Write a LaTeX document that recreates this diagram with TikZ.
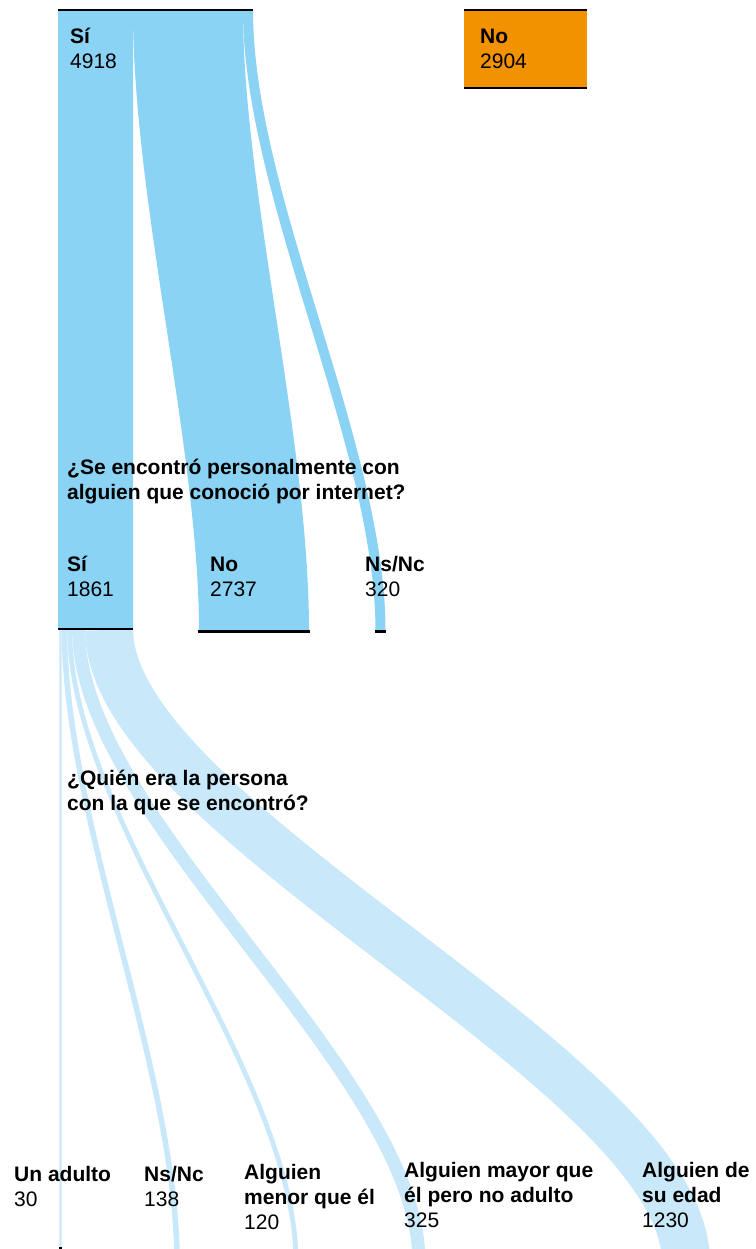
\documentclass[tikz,border=0pt]{standalone}
\usepackage{fontspec}
\setmainfont{Liberation Sans}
\usetikzlibrary{calc}

\definecolor{flowblue}{HTML}{8BD3F5}
\definecolor{flowlight}{HTML}{C9E8F9}
\definecolor{noorange}{HTML}{F39200}

% width, colour, from, to
\newcommand{\flowlink}[4]{%
  \draw[line width=#1, draw=#2] (#3) .. controls ($(#3)!0.3!(#3|-#4)$) and ($(#4)!0.3!(#4|-#3)$) .. (#4);}

\begin{document}
\begin{tikzpicture}[
    x=1pt, y=-1pt,
    bar/.style={line width=2.5pt, draw=black},
    lbl/.style={anchor=base west, inner sep=0pt, align=left, font=\fontsize{21}{25}\selectfont},
    qlbl/.style={lbl, font=\fontsize{21}{25}\selectfont\bfseries}
]
    \useasboundingbox (0,0) rectangle (755,1249);
    \clip (0,0) rectangle (755,1249);

    % Flow ends, first level
    \coordinate (si-a) at (95.5,10);
    \coordinate (si-b) at (95.5,629);
    \coordinate (no-a) at (188,10);
    \coordinate (no-b) at (254,631);
    \coordinate (ns-a) at (248,10);
    \coordinate (ns-b) at (380.5,631);

    % Flow ends, second level
    \coordinate (adulto-a) at (60.5,630);
    \coordinate (adulto-b) at (60.5,1262);
    \coordinate (nsb-a) at (64.5,630);
    \coordinate (nsb-b) at (177,1262);
    \coordinate (menor-a) at (69.7,630);
    \coordinate (menor-b) at (296,1262);
    \coordinate (mayor-a) at (78.7,630);
    \coordinate (mayor-b) at (419,1262);
    \coordinate (edad-a) at (109.2,630);
    \coordinate (edad-b) at (686,1262);

    % Second level flows
    \flowlink{2.4pt}{flowlight}{adulto-a}{adulto-b}
    \flowlink{5.6pt}{flowlight}{nsb-a}{nsb-b}
    \flowlink{4.8pt}{flowlight}{menor-a}{menor-b}
    \flowlink{13.1pt}{flowlight}{mayor-a}{mayor-b}
    \flowlink{48pt}{flowlight}{edad-a}{edad-b}

    % First level flows
    \flowlink{75pt}{flowblue}{si-a}{si-b}
    \flowlink{110pt}{flowblue}{no-a}{no-b}
    \flowlink{10pt}{flowblue}{ns-a}{ns-b}

    % No box
    \fill[noorange] (464,10) rectangle (587,88);
    \draw[bar] (464,10) -- (587,10);
    \draw[bar] (464,88) -- (587,88);

    % Bars
    \draw[bar] (58,10) -- (253,10);
    \draw[bar] (58,629) -- (133,629);
    \draw[bar] (198,631.5) -- (310,631.5);
    \draw[bar] (375,631.5) -- (386,631.5);
    \draw[bar] (59,1248.5) -- (62,1248.5);

    % Labels (base = last line)
    \node[lbl] (si) at (70,69) {\textbf{Sí}\\4918};
    \node[lbl] (no) at (480,69) {\textbf{No}\\2904};

    \node[qlbl] (q1) at (67,499) {¿Se encontró personalmente con\\alguien que conoció por internet?};
    \node[lbl] (si2) at (67,596) {\textbf{Sí}\\1861};
    \node[lbl] (no2) at (210,596) {\textbf{No}\\2737};
    \node[lbl] (ns2) at (365,596) {\textbf{Ns/Nc}\\320};

    \node[qlbl] (q2) at (67,810) {¿Quién era la persona\\con la que se encontró?};
    \node[lbl] (adulto) at (14,1206) {\textbf{Un adulto}\\30};
    \node[lbl] (nsb) at (144,1206) {\textbf{Ns/Nc}\\138};
    \node[lbl] (menor) at (244,1229) {\textbf{Alguien}\\\textbf{menor que él}\\120};
    \node[lbl] (mayor) at (404,1227) {\textbf{Alguien mayor que}\\\textbf{él pero no adulto}\\325};
    \node[lbl] (edad) at (642,1227) {\textbf{Alguien de}\\\textbf{su edad}\\1230};

\end{tikzpicture}
\end{document}
